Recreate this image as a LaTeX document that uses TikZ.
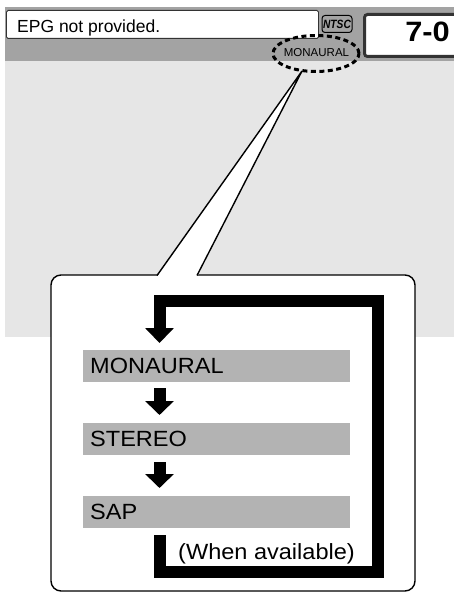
\documentclass[tikz,border=0pt]{standalone}
\usepackage{fontspec}
\setmainfont{Liberation Sans}
\usepackage{graphicx}
\usetikzlibrary{arrows.meta,calc}
\definecolor{bandgray}{HTML}{A3A3A3}
\definecolor{lightbg}{HTML}{E6E6E6}
\definecolor{bargray}{HTML}{B3B3B3}
\definecolor{boxline}{HTML}{333333}
\newcommand\widetext[2]{\scalebox{#1}[1]{#2}}
\begin{document}
\begin{tikzpicture}[x=1pt,y=-1pt,
  bar/.style={fill=bargray, minimum height=32pt, text width=253pt, inner sep=7pt,
    align=left, anchor=north west, font=\fontsize{22}{24}\selectfont},
  blockarrow/.style={line width=12pt, -{Triangle[width=28pt,length=14pt]}},
  loopline/.style={line width=12pt, line join=miter, -{Triangle[width=28pt,length=15pt]}},
  calloutline/.style={line width=1.4pt, black}]
\useasboundingbox (0,0) rectangle (454,593);
\clip (0,0) rectangle (454,593);
% screen background
\fill[bandgray] (5,7) rectangle (454,61);
\fill[lightbg] (5,61) rectangle (454,337);
% EPG box
\node[draw=boxline, line width=0.9pt, fill=white, rounded corners=1.5pt, minimum width=312pt,
  minimum height=28pt, anchor=north west, inner sep=0pt] (epg) at (6,10) {};
\node[anchor=base west, inner sep=0pt, font=\fontsize{17.5}{20}\selectfont] (epgt) at (17,32.5) {EPG not provided.};
% NTSC logo
\node[draw=black, line width=1pt, rounded corners=3pt, minimum width=30pt,
  minimum height=17pt, inner sep=0pt, font=\fontsize{12}{14}\selectfont\bfseries\itshape]
  (ntsc) at (337,24) {\widetext{0.85}{NTSC}};
% channel box
\node[draw=boxline, line width=3pt, rounded corners=3pt, fill=white, minimum width=100pt,
  minimum height=42pt, anchor=north west, inner sep=0pt] (chbox) at (363,13) {};
\node[anchor=base east, inner sep=0pt, font=\fontsize{28}{32}\selectfont\bfseries] (ch) at (450,42) {\widetext{1.1}{7-0}};
% small MONAURAL
\node[inner sep=0pt, font=\fontsize{11.5}{13}\selectfont] (mono) at (316.5,52.5) {MONAURAL};
% callout box
\draw[calloutline, fill=white, rounded corners=10pt] (51,275) rectangle (415,591);
\fill[white] (157,277) -- (302,71) -- (197,277) -- cycle;
\coordinate (apex) at (302,71);
\draw[calloutline, line join=miter] (157,275.5) -- (apex) -- (197,275.5);
% dashed ellipse
\draw[line width=3pt, dash pattern=on 5pt off 3.5pt] (316,53.5) ellipse [x radius=43pt, y radius=18pt];
% bars
\node[bar] (m) at (83,350) {\widetext{1.07}{MONAURAL}};
\node[bar] (s) at (83,423) {\widetext{1.07}{STEREO}};
\node[bar] (p) at (83,496) {\widetext{1.07}{SAP}};
\coordinate (ax) at (159.5,0);
% arrows
\draw[blockarrow, shorten <=6pt, shorten >=8pt] (m.south -| ax) -- (s.north -| ax);
\draw[blockarrow, shorten <=7pt, shorten >=8pt] (s.south -| ax) -- (p.north -| ax);
\coordinate (lstart) at ($(p.south -| ax)+(0,7)$);
\coordinate (lbr) at (377.5,571.5);
\coordinate (ltr) at (377.5,300.5);
\draw[loopline, shorten >=7pt] (lstart) |- (lbr) -- (ltr) -| (m.north -| ax);
\node[anchor=base west, inner sep=0pt, font=\fontsize{22}{24}\selectfont] (avail) at (178,559) {\widetext{1.07}{(When available)}};
\end{tikzpicture}
\end{document}
